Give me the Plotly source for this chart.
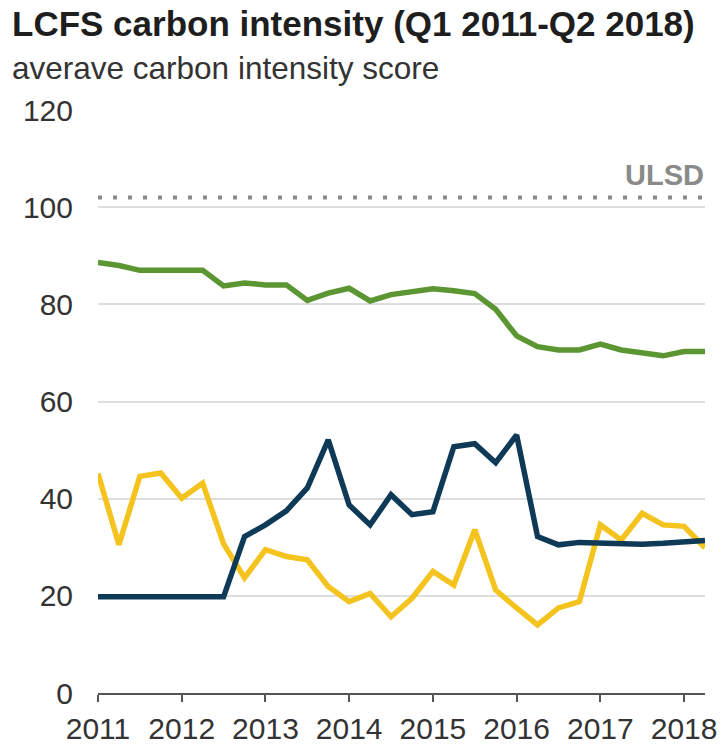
import plotly.graph_objects as go

# Quarterly observations, Q1 2011 through Q2 2018 (decimal years)
quarters = [2011 + 0.25 * i for i in range(30)]

green_series = [88.6, 88.0, 87.0, 87.0, 87.0, 87.0, 83.8, 84.4, 84.0, 84.0,
                80.8, 82.3, 83.3, 80.7, 82.0, 82.6, 83.2, 82.8, 82.2, 79.0,
                73.5, 71.3, 70.6, 70.6, 71.8, 70.6, 70.0, 69.4, 70.3, 70.3]

blue_series = [19.8, 19.8, 19.8, 19.8, 19.8, 19.8, 19.8, 32.2, 34.6, 37.5,
               42.2, 52.1, 38.7, 34.6, 40.8, 36.7, 37.3, 50.7, 51.3, 47.4,
               53.1, 32.2, 30.5, 31.0, 30.8, 30.6, 30.6, 30.8, 31.0, 31.4]

yellow_series = [45.2, 30.5, 44.6, 45.3, 40.1, 43.2, 30.7, 23.7, 29.5, 28.1,
                 27.4, 21.9, 18.8, 20.5, 15.7, 19.5, 25.0, 22.2, 33.6, 21.2,
                 17.5, 14.0, 17.5, 18.8, 34.6, 31.5, 37.0, 34.6, 34.3, 29.9]

ulsd_value = 102
year_ticks = [2011, 2012, 2013, 2014, 2015, 2016, 2017, 2018]
y_ticks = [0, 20, 40, 60, 80, 100, 120]

GREEN = "#5b9632"
BLUE = "#0f3a57"
YELLOW = "#f4c31e"
FONT = "Liberation Sans, Arial, sans-serif"

fig = go.Figure()

# ULSD reference level
fig.add_trace(go.Scatter(
    x=[quarters[0], quarters[-1]], y=[ulsd_value, ulsd_value],
    mode="lines", line=dict(color="#8a8a8a", width=4, dash="4px,11px"),
    hoverinfo="skip", showlegend=False))

fig.add_trace(go.Scatter(x=quarters, y=yellow_series, mode="lines",
                         line=dict(color=YELLOW, width=5.5), showlegend=False))
fig.add_trace(go.Scatter(x=quarters, y=blue_series, mode="lines",
                         line=dict(color=BLUE, width=5.5), showlegend=False))
fig.add_trace(go.Scatter(x=quarters, y=green_series, mode="lines",
                         line=dict(color=GREEN, width=5.5), showlegend=False))

fig.update_layout(
    width=722, height=749,
    margin=dict(l=98, r=17, t=110, b=56),
    paper_bgcolor="white", plot_bgcolor="white",
    font=dict(family=FONT, color="#333333"),
    annotations=[
        dict(text="<b>LCFS carbon intensity (Q1 2011-Q2 2018)</b>",
             xref="paper", yref="paper", x=-0.145, y=1.0, yshift=87,
             xanchor="left", yanchor="middle", showarrow=False,
             font=dict(size=35, color="#1e1e1e", family=FONT)),
        dict(text="averave carbon intensity score",
             xref="paper", yref="paper", x=-0.145, y=1.0, yshift=42,
             xanchor="left", yanchor="middle", showarrow=False,
             font=dict(size=31.5, color="#333333", family=FONT)),
        dict(text="<b>ULSD</b>", xref="x", yref="y",
             x=quarters[-1], y=ulsd_value, xanchor="right", yanchor="bottom",
             yshift=4, xshift=1, showarrow=False,
             font=dict(size=29, color="#8a8a8a", family=FONT)),
    ],
)

fig.update_xaxes(
    range=[quarters[0], quarters[-1]], tickvals=year_ticks,
    ticktext=[str(y) for y in year_ticks],
    showgrid=False, zeroline=False, automargin=False,
    showline=True, linecolor="#555555", linewidth=2,
    ticks="outside", ticklen=7, tickwidth=2, tickcolor="#555555",
    ticklabelstandoff=1,
    tickfont=dict(size=30, color="#333333"),
)
fig.update_yaxes(
    range=[0, 120], tickvals=y_ticks, automargin=False,
    showgrid=True, gridcolor="#dedede", gridwidth=1.5,
    zeroline=False, showline=False,
    ticks="", ticklabelstandoff=24,
    tickfont=dict(size=30, color="#333333"),
)

fig.write_html("out.html")
